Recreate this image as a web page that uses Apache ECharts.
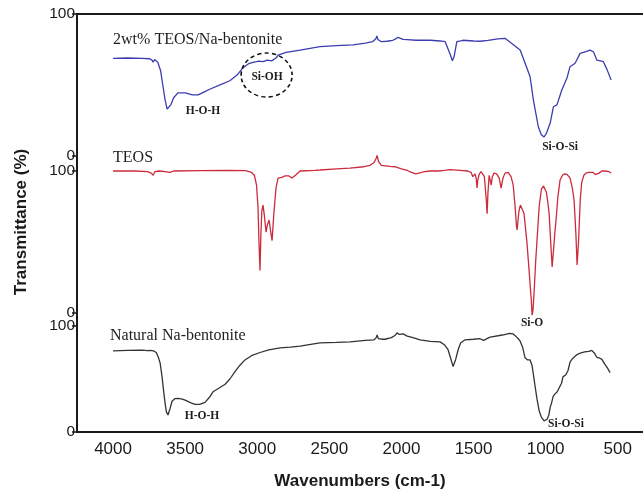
<!DOCTYPE html>
<html>
<head>
<meta charset="utf-8">
<script src="https://cdn.jsdelivr.net/npm/echarts@6/dist/echarts.min.js"></script>
<style>
  html, body { margin: 0; padding: 0; background: #fff; }
  #main { width: 643px; height: 491px; }
</style>
</head>
<body>
<div id="main"></div>
<script>
// FTIR spectra, wavenumber (cm-1) vs transmittance (%)
var xTicks = [4000, 3500, 3000, 2500, 2000, 1500, 1000, 500];
var yTicks = [0, 100];

// 2wt% TEOS/Na-bentonite
var blueWn = [4000, 3900, 3800, 3745, 3730, 3722, 3712, 3690, 3670, 3655, 3640, 3625, 3615, 3600, 3580, 3550,
  3500, 3450, 3410, 3370, 3330, 3250, 3190, 3140, 3100, 3060, 3030, 2990, 2960, 2930, 2900, 2870, 2856, 2800,
  2703, 2565, 2450, 2336, 2250, 2200, 2178, 2171, 2163, 2140, 2100, 2060, 2040, 2024, 1989, 1960, 1900, 1800,
  1732, 1697, 1674, 1660, 1647, 1635, 1616, 1590, 1573, 1500, 1455, 1400, 1330, 1282, 1235, 1177, 1143, 1108,
  1085, 1051, 1030, 1011, 995, 969, 946, 922, 888, 853, 831, 796, 761, 720, 692, 669, 655, 646, 620, 600, 575, 546];
var blueT = [68.8, 69, 68.8, 68.5, 67.5, 66, 68, 66, 60, 50, 40, 33, 32.5, 36, 41, 44.5,
  44.5, 43, 43, 45, 47, 50.5, 53, 57, 62, 65, 66, 66.8, 66.5, 67.5, 67, 69, 71, 73,
  74.6, 77, 77.8, 78.3, 79.5, 80.5, 82.5, 84.5, 82, 80.5, 80.8, 81.5, 82.5, 83.6, 82.2, 82, 81.5, 81.5,
  81, 80.5, 74.6, 71, 67.1, 70, 80.5, 81, 81.5, 81, 80.8, 81.5, 82.5, 82.9, 79.3, 74.6, 65.5, 55.8,
  39.4, 20.6, 15, 13.4, 16, 23, 34.7, 36, 46.5, 54.7, 62.9, 65.3, 72.3, 73.5, 74.6, 73.4, 70, 67.6, 67, 66.4, 61, 53.5];

// TEOS
var redWn = [4000, 3850, 3760, 3735, 3722, 3710, 3680, 3640, 3605, 3580, 3400, 3200, 3080, 3040, 3020, 3005,
  2995, 2988, 2981, 2975, 2968, 2960, 2950, 2939, 2930, 2918, 2908, 2897, 2885, 2870, 2856, 2830, 2807, 2780,
  2760, 2752, 2735, 2703, 2600, 2565, 2450, 2357, 2260, 2218, 2190, 2175, 2169, 2160, 2140, 2128, 2080, 2045,
  2000, 1960, 1940, 1900, 1880, 1840, 1800, 1753, 1700, 1663, 1594, 1540, 1517, 1505, 1490, 1482, 1476, 1470,
  1460, 1448, 1425, 1412, 1406, 1400, 1392, 1385, 1378, 1370, 1358, 1340, 1322, 1309, 1296, 1282, 1260, 1240,
  1225, 1212, 1203, 1198, 1192, 1185, 1175, 1165, 1150, 1130, 1115, 1105, 1100, 1094, 1088, 1080, 1070, 1060,
  1045, 1030, 1015, 1004, 995, 985, 976, 965, 955, 945, 935, 928, 915, 900, 880, 865, 850, 831, 815, 803,
  790, 782, 772, 760, 750, 735, 719, 700, 671, 655, 643, 630, 610, 588, 560, 546];
var redT = [100, 100, 99.5, 98.5, 97, 99.5, 100, 99.5, 99, 100, 100.3, 100.5, 100.3, 99, 97, 90,
  75, 50, 30, 55, 72, 76, 68, 57, 62, 65.5, 58, 51, 70, 88, 95, 95.5, 96.5, 96.5,
  95, 95, 97, 100, 100.5, 100.7, 101.5, 102, 103, 104, 106, 109, 111, 107, 104, 103.5, 103.2, 103,
  101.5, 100.5, 99.3, 98, 98.5, 99.5, 100, 100, 100.5, 101, 100.5, 100, 99, 96, 98, 95, 88, 94,
  98, 99.5, 96, 80, 70, 85, 97, 96.5, 90, 96, 98.5, 98, 95, 88, 95, 98.5, 99, 96,
  90, 75, 62, 58.5, 65, 72, 76, 75, 70, 50, 30, 16, 10, -1.5, 2, 15, 35, 51,
  75, 87, 89.5, 89, 85, 78, 70, 50, 32.4, 45, 58, 65.5, 82, 93.7, 97.5, 98, 97.5, 95, 88, 79.6,
  55, 33.8, 50, 80, 92, 97, 98.6, 99, 99, 97.5, 97, 98.5, 100, 100, 99.5, 98.6];

// Natural Na-bentonite
var blackWn = [4000, 3900, 3800, 3760, 3743, 3720, 3700, 3685, 3674, 3660, 3653, 3640, 3630, 3619, 3605, 3591,
  3570, 3549, 3520, 3500, 3460, 3431, 3400, 3362, 3330, 3306, 3270, 3223, 3190, 3154, 3120, 3085, 3040, 2981,
  2920, 2842, 2770, 2703, 2640, 2565, 2450, 2357, 2250, 2190, 2175, 2169, 2160, 2130, 2114, 2070, 2045, 2031,
  2015, 1989, 1960, 1920, 1871, 1800, 1732, 1700, 1677, 1660, 1642, 1625, 1607, 1590, 1559, 1500, 1455, 1430,
  1420, 1400, 1385, 1300, 1250, 1226, 1205, 1190, 1178, 1160, 1143, 1125, 1108, 1095, 1087, 1072, 1060, 1045,
  1030, 1011, 1000, 990, 978, 969, 958, 948, 935, 920, 905, 890, 880, 870, 860, 845, 831, 815, 800, 782,
  760, 730, 700, 680, 671, 660, 645, 630, 610, 590, 570, 553];
var blackT = [76.6, 77, 77.2, 76.8, 77, 76.5, 75, 70, 65.4, 52, 43, 28, 19, 16, 22, 29,
  31.5, 31.8, 31, 30, 27.5, 26, 26, 28, 33, 38, 41, 45, 50, 57, 63, 68, 72, 75,
  77.5, 79.4, 80, 81, 82.5, 84, 84.5, 85, 86.5, 87, 89, 91.6, 88, 87.5, 87.5, 89, 91, 93.5,
  92, 92.5, 90.5, 89, 87, 85.5, 85, 82, 77.6, 70, 61.7, 68, 77.6, 84, 87, 87.5, 88, 86.5,
  86, 88.5, 89.5, 91.5, 93, 92.5, 90, 88, 86, 80, 70, 68, 68, 63, 56, 42, 31, 20,
  14, 10.5, 10, 12, 16, 23, 28, 33.6, 36, 38, 42, 46, 52, 53, 54, 58, 66, 69, 71, 73,
  74.5, 75.5, 76, 77, 76.6, 74, 70.5, 70, 68.5, 64, 60, 56];

// annotations: [text, wavenumber, transmittance, style, dy]
var blueNotes = [
  ['2wt% TEOS/Na-bentonite', 4000, 81.7, 'name', 0],
  ['H-O-H', 3376, 31.7, 'bond', 0],
  ['Si-OH', 2932, 55.6, 'bond', 0],
  ['Si-O-Si', 900, 6.3, 'bond', 0]
];
var blueCircle = [2935, 57];
var redNotes = [
  ['TEOS', 4000, 99, 'name', -15],
  ['Si-O', 1094, -7, 'bond', 0]
];
var blackNotes = [
  ['Natural Na-bentonite', 4021, 90.7, 'name', 0],
  ['H-O-H', 3383, 15, 'bond', 0],
  ['Si-O-Si', 983, 7.5, 'left', 0]
];

function pairs(wn, t) {
  return wn.map(function (w, i) { return [w, t[i]]; });
}

function notes(list, extra) {
  var data = list.map(function (n) {
    var isName = n[3] === 'name';
    var left = isName || n[3] === 'left';
    return {
      coord: [n[1], n[2]],
      symbolSize: 0,
      label: {
        show: true,
        formatter: n[0],
        position: left ? 'right' : 'inside',
        distance: 0,
        offset: [0, n[4]],
        color: '#1e1e1e',
        fontFamily: 'Liberation Serif',
        fontSize: isName ? 16 : 11.5,
        fontWeight: isName ? 'normal' : 'bold'
      }
    };
  });
  return {
    silent: true,
    animation: false,
    symbol: 'circle',
    data: data.concat(extra || [])
  };
}

var axisColor = '#1a1a1a';
var grids = [
  { left: 77, right: 0, top: 14, height: 157 },
  { left: 77, right: 0, top: 171, height: 155 },
  { left: 77, right: 0, top: 326, height: 107 }
];
var yMins = [-10.56, -9.15, 0];

var myChart = echarts.init(document.getElementById('main'));

option = {
  backgroundColor: '#fff',
  animation: false,
  grid: grids,
  graphic: [{
    type: 'text',
    x: 21,
    y: 222,
    rotation: Math.PI / 2,
    style: {
      text: 'Transmittance (%)',
      fill: '#1a1a1a',
      font: 'bold 17px "Liberation Sans", Arial, sans-serif',
      align: 'center',
      verticalAlign: 'middle'
    }
  }],
  xAxis: [0, 1, 2].map(function (i) {
    return {
      gridIndex: i,
      type: 'value',
      min: 325,
      max: 4250,
      inverse: true,
      show: i !== 1,
      position: i === 0 ? 'top' : 'bottom',
      axisLine: { show: true, onZero: false, lineStyle: { color: axisColor, width: 2 } },
      axisTick: { show: false },
      splitLine: { show: false },
      axisLabel: {
        show: i === 2,
        customValues: xTicks,
        formatter: function (v) { return String(v); },
        margin: 9,
        color: '#1a1a1a',
        fontFamily: 'Liberation Sans',
        fontSize: 17
      },
      name: i === 2 ? 'Wavenumbers (cm-1)' : '',
      nameLocation: 'middle',
      nameGap: 41,
      nameTextStyle: {
        color: '#1a1a1a',
        fontFamily: 'Liberation Sans',
        fontWeight: 'bold',
        fontSize: 17
      }
    };
  }),
  yAxis: [0, 1, 2].map(function (i) {
    return {
      gridIndex: i,
      type: 'value',
      min: yMins[i],
      max: 100,
      axisLine: { show: true, onZero: false, lineStyle: { color: axisColor, width: 2 } },
      axisTick: { show: true, customValues: yTicks, length: 5, lineStyle: { color: axisColor, width: 1.5 } },
      splitLine: { show: false },
      axisLabel: {
        customValues: yTicks,
        margin: 2,
        color: '#1a1a1a',
        fontFamily: 'Liberation Sans',
        fontSize: 15.5
      }
    };
  }),
  series: [
    {
      name: '2wt% TEOS/Na-bentonite',
      type: 'line',
      xAxisIndex: 0,
      yAxisIndex: 0,
      showSymbol: false,
      clip: false,
      lineStyle: { color: '#3c3cb2', width: 1.3 },
      data: pairs(blueWn, blueT),
      markPoint: notes(blueNotes, [{
        coord: blueCircle,
        symbol: 'path://M0,22A25,22,0,1,1,50,22A25,22,0,1,1,0,22Z',
        symbolSize: [51, 44],
        itemStyle: { color: 'none', borderColor: '#111', borderWidth: 1.5, borderType: [4, 3] },
        label: { show: false }
      }])
    },
    {
      name: 'TEOS',
      type: 'line',
      xAxisIndex: 1,
      yAxisIndex: 1,
      showSymbol: false,
      clip: false,
      lineStyle: { color: '#cc2b3b', width: 1.3 },
      data: pairs(redWn, redT),
      markPoint: notes(redNotes)
    },
    {
      name: 'Natural Na-bentonite',
      type: 'line',
      xAxisIndex: 2,
      yAxisIndex: 2,
      showSymbol: false,
      clip: false,
      lineStyle: { color: '#333', width: 1.3 },
      data: pairs(blackWn, blackT),
      markPoint: notes(blackNotes)
    }
  ]
};
myChart.setOption(option);
</script>
</body>
</html>
